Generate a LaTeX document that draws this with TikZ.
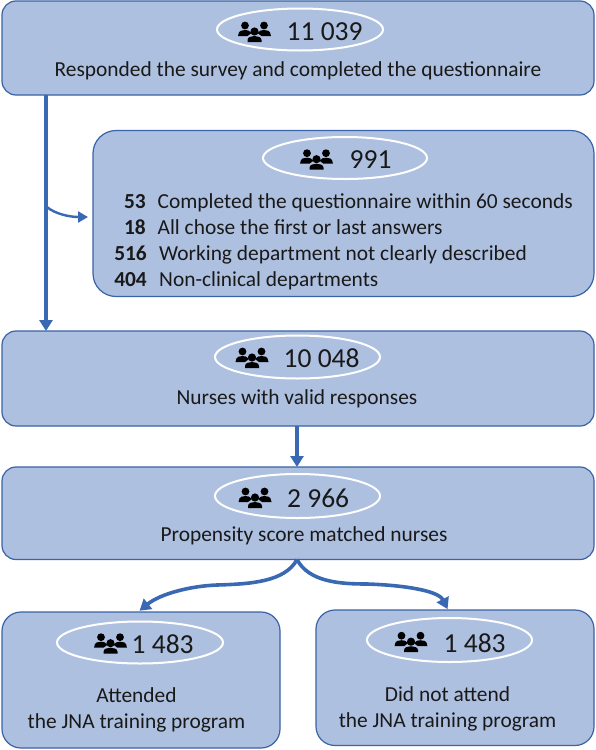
\documentclass[tikz,border=0pt]{standalone}
\usepackage{fontspec}
\setmainfont{Carlito}
\usetikzlibrary{arrows.meta,calc}
\definecolor{boxfill}{HTML}{AEC0E0}
\definecolor{boxline}{HTML}{3A62A6}
\definecolor{arrowc}{HTML}{3A69B4}
\tikzset{
 box/.style={draw=boxline,line width=1.2pt,fill=boxfill,rounded corners=#1,anchor=north west,inner sep=0pt,outer sep=0pt},
 box/.default=14pt,
 oval/.style={draw=white,line width=2pt},
 body/.style={font=\fontsize{21.4}{26}\selectfont,text=black!90,inner sep=0pt,align=center},
 bold num/.style={body,anchor=base east,font=\bfseries\fontsize{21.4}{26}\selectfont},
 num/.style={font=\fontsize{27.5}{30}\selectfont,text=black!90,inner sep=0pt,anchor=base west},
 flow/.style={draw=arrowc,line width=3.6pt,-{Triangle[length=11pt,width=13pt]}},
 thin flow/.style={draw=arrowc,line width=2.4pt,-{Triangle[length=10pt,width=11pt]},shorten >=5pt},
 people/.pic={
  \fill[black] (-9.5,-5.5) circle (3.9);
  \fill[black] (9.5,-5.5) circle (3.9);
  \fill[black] (-16.5,5) .. controls (-16,-1) and (-12,-1) .. (-9.5,-1) .. controls (-7,-1) and (-5,-0.5) .. (-3,2) -- (-7,5) -- cycle;
  \fill[black] (16.5,5) .. controls (16,-1) and (12,-1) .. (9.5,-1) .. controls (7,-1) and (5,-0.5) .. (3,2) -- (7,5) -- cycle;
  \fill[black] (0,0.5) circle (4.1);
  \fill[black] (-7,11) -- (-7,9) .. controls (-7,6) and (-3,5) .. (0,5) .. controls (3,5) and (7,6) .. (7,9) -- (7,11) -- cycle;
 }
}
\begin{document}
\begin{tikzpicture}[x=1pt,y=-1pt]
\useasboundingbox (0,0) rectangle (595,750);

\node[box,minimum width=592pt,minimum height=94pt] (b1) at (2,1) {};
\node[box=23pt,minimum width=501pt,minimum height=166pt] (b2) at (93,130.5) {};
\node[box,minimum width=592pt,minimum height=95pt] (b3) at (2,331) {};
\node[box,minimum width=592pt,minimum height=92.5pt] (b4) at (2,467) {};
\node[box=19pt,minimum width=278pt,minimum height=136pt] (b5) at (2,612) {};
\node[box=19pt,minimum width=278pt,minimum height=135.5pt] (b6) at (316,610) {};

\coordinate (trunk) at (46,200);
\coordinate (mid) at (297,400);

\draw[flow] (b1.south -| trunk) -- (b3.north -| trunk);
\draw[thin flow] (47,207) .. controls (55,214) and (70,217) .. (b2.west |- 0,217);
\draw[flow] (b3.south -| mid) -- (b4.north -| mid);
\draw[flow,shorten >=2pt] (b4.south -| mid) .. controls (285,582) and (250,584) .. (217,585) .. controls (190,586) and (160,594) .. (b5.north -| 138,0);
\draw[flow,shorten >=1pt] (b4.south -| mid) .. controls (309,582) and (340,584) .. (367,584) .. controls (400,585) and (438,590) .. (b6.north -| 448,0);

% ovals
\draw[oval] (300,29.5) ellipse (83 and 21);
\draw[oval] (345,158) ellipse (82 and 21);
\draw[oval] (297.5,357) ellipse (82.5 and 21.5);
\draw[oval] (297.5,496) ellipse (82.5 and 22);
\draw[oval] (140,642.5) ellipse (83 and 21);
\draw[oval] (449.5,640) ellipse (82.5 and 22);

% icons
\pic at (254.5,31) {people};
\pic at (316.5,158.7) {people};
\pic at (252,357) {people};
\pic at (255,497) {people};
\pic at (110.5,642.7) {people};
\pic at (411,641.2) {people};

% counts
\node[num] (n1) at (286.5,40.7) {11 039};
\node[num] (n2) at (349.5,168) {991};
\node[num] (n3) at (283.5,367) {10 048};
\node[num] (n4) at (287,507) {2 966};
\node[num] (n5) at (131.5,653) {1 483};
\node[num] (n6) at (443.5,652) {1 483};

% texts
\node[body,anchor=base] (t1) at (298,76) {Responded the survey and completed the questionnaire};
\node[body,anchor=base] (t3) at (297,404) {Nurses with valid responses};
\node[body,anchor=base] (t4) at (304,541) {Propensity score matched nurses};
\node[body] (t5) at (136.5,709.5) {Attended\\the JNA training program};
\node[body] (t6) at (447.5,709) {Did not attend\\the JNA training program};

\node[bold num] (c1) at (146,208) {53};
\node[bold num] (c2) at (146,234) {18};
\node[bold num] (c3) at (147,260) {516};
\node[bold num] (c4) at (147,286) {404};
\node[body,anchor=base west] (d1) at (157.5,208) {Completed the questionnaire within 60 seconds};
\node[body,anchor=base west] (d2) at (157.5,234) {All chose the first or last answers};
\node[body,anchor=base west] (d3) at (159,260) {Working department not clearly described};
\node[body,anchor=base west] (d4) at (159,286) {Non-clinical departments};
\end{tikzpicture}
\end{document}
